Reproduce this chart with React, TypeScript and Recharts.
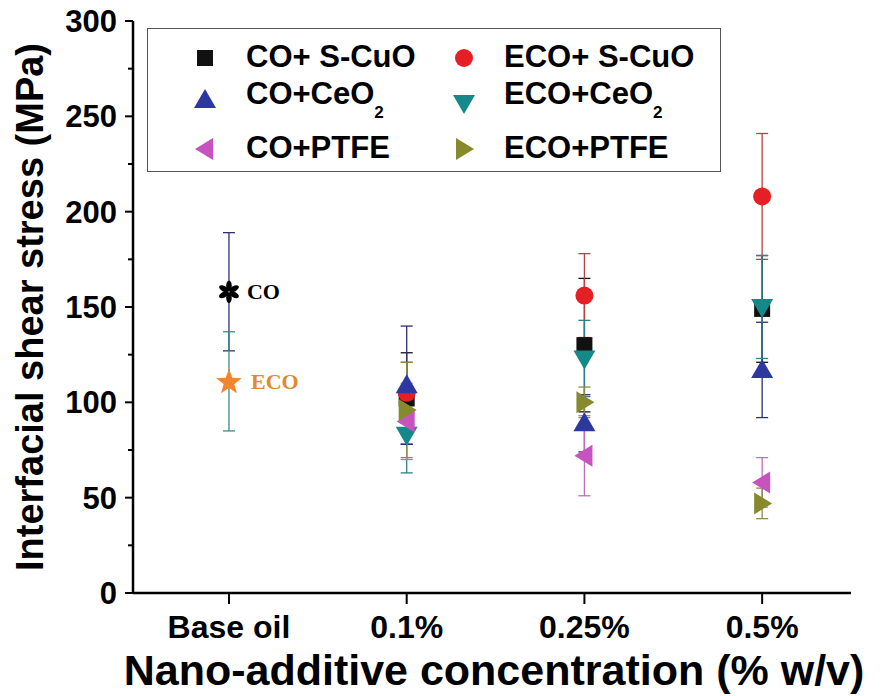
import {
  ScatterChart,
  Scatter,
  XAxis,
  YAxis,
  ErrorBar,
  Legend,
  Label,
} from "recharts";

const categories = ["Base oil", "0.1%", "0.25%", "0.5%"];
const concPos = [1, 2, 3];

// base oil reference points
const baseCO = [158];
const baseCOErr = [31];
const baseECO = [111];
const baseECOErr = [26];

// nano-additive series, one value per concentration (0.1, 0.25, 0.5 %)
const coSCuO = [102, 130, 149];
const coSCuOErr = [24, 35, 28];
const ecoSCuO = [105, 156, 208];
const ecoSCuOErr = [16, 22, 33];
const coCeO2 = [109, 89, 117];
const coCeO2Err = [31, 15, 25];
const ecoCeO2 = [83, 123, 150];
const ecoCeO2Err = [20, 20, 27];
const coPTFE = [90, 72, 58];
const coPTFEErr = [20, 21, 13];
const ecoPTFE = [96, 100, 47];
const ecoPTFEErr = [25, 8, 8];

const yTicks = [0, 25, 50, 75, 100, 125, 150, 175, 200, 225, 250, 275, 300];

const toRows = (pos: number[], vals: number[], errs: number[]) =>
  pos.map((x, i) => ({ x, y: vals[i], err: errs[i] }));

const FONT = "'Liberation Sans', Arial, Helvetica, sans-serif";
const SERIF = "'Liberation Serif', 'Times New Roman', serif";

const series = [
  { name: "CO+ S-CuO", kind: "square", color: "#111111", bar: "#111111", rows: toRows(concPos, coSCuO, coSCuOErr) },
  { name: "ECO+ S-CuO", kind: "circle", color: "#e41f26", bar: "#b5414a", rows: toRows(concPos, ecoSCuO, ecoSCuOErr) },
  { name: "CO+CeO2", kind: "up", color: "#2c38a0", bar: "#2b2f72", rows: toRows(concPos, coCeO2, coCeO2Err) },
  { name: "ECO+CeO2", kind: "down", color: "#15898a", bar: "#2f7f88", rows: toRows(concPos, ecoCeO2, ecoCeO2Err) },
  { name: "CO+PTFE", kind: "left", color: "#c653bf", bar: "#c070bb", rows: toRows(concPos, coPTFE, coPTFEErr) },
  { name: "ECO+PTFE", kind: "right", color: "#878a2c", bar: "#8c8c4a", rows: toRows(concPos, ecoPTFE, ecoPTFEErr) },
];

function Marker({ kind, cx, cy, color }: { kind: string; cx: number; cy: number; color: string }) {
  switch (kind) {
    case "square":
      return <rect x={cx - 8} y={cy - 8} width={16} height={16} fill={color} />;
    case "circle":
      return <circle cx={cx} cy={cy} r={9} fill={color} />;
    case "up":
      return <path d={`M${cx},${cy - 11} L${cx + 11},${cy + 8} L${cx - 11},${cy + 8} Z`} fill={color} />;
    case "down":
      return <path d={`M${cx},${cy + 11} L${cx + 11},${cy - 8} L${cx - 11},${cy - 8} Z`} fill={color} />;
    case "left":
      return <path d={`M${cx - 10},${cy} L${cx + 8},${cy - 11} L${cx + 8},${cy + 11} Z`} fill={color} />;
    case "right":
      return <path d={`M${cx + 10},${cy} L${cx - 8},${cy - 11} L${cx - 8},${cy + 11} Z`} fill={color} />;
    default:
      return null;
  }
}

const Asterisk = (props: any) => {
  const { cx, cy } = props;
  return (
    <g>
      {[0, 60, 120, 180, 240, 300].map((a) => (
        <ellipse
          key={a}
          cx={cx}
          cy={cy - 6}
          rx={2.8}
          ry={5.2}
          fill="#000"
          transform={`rotate(${a} ${cx} ${cy})`}
        />
      ))}
      <text x={cx + 18} y={cy + 7} fontFamily={SERIF} fontWeight="bold" fontSize={22} fill="#000">
        CO
      </text>
    </g>
  );
};

const OrangeStar = (props: any) => {
  const { cx, cy } = props;
  const pts: string[] = [];
  for (let i = 0; i < 10; i++) {
    const r = i % 2 === 0 ? 13.5 : 5.6;
    const a = (Math.PI / 5) * i - Math.PI / 2;
    pts.push(`${cx + r * Math.cos(a)},${cy + 1 + r * Math.sin(a)}`);
  }
  return (
    <g>
      <polygon points={pts.join(" ")} fill="#f5842a" />
      <text x={cx + 22} y={cy + 8} fontFamily={SERIF} fontWeight="bold" fontSize={22} fill="#e08a35">
        ECO
      </text>
    </g>
  );
};

const YTick = (props: any) => {
  const { x, y, payload } = props;
  const major = payload.value % 50 === 0;
  return (
    <g>
      <line x1={x - (major ? 8 : 5)} x2={x} y1={y} y2={y} stroke="#000" strokeWidth={2} />
      {major && (
        <text x={x - 16} y={y + 11} textAnchor="end" fontFamily={FONT} fontWeight="bold" fontSize={31} fill="#000">
          {payload.value}
        </text>
      )}
    </g>
  );
};

const XTick = (props: any) => {
  const { x, y, payload } = props;
  return (
    <g>
      <line x1={x} x2={x} y1={y} y2={y + 11} stroke="#000" strokeWidth={2} />
      <text x={x} y={y + 45} textAnchor="middle" fontFamily={FONT} fontWeight="bold" fontSize={32} fill="#000">
        {categories[payload.value]}
      </text>
    </g>
  );
};

const XTitle = ({ viewBox }: any) => (
  <text
    x={viewBox.x + viewBox.width / 2 + 2}
    y={viewBox.y + 92}
    textAnchor="middle"
    fontFamily={FONT}
    fontWeight="bold"
    fontSize={43}
    fill="#000"
  >
    Nano-additive concentration (% w/v)
  </text>
);

const YTitle = ({ viewBox }: any) => {
  const x = viewBox.x + 43;
  const y = viewBox.y + viewBox.height / 2;
  return (
    <text
      x={x}
      y={y}
      transform={`rotate(-90 ${x} ${y})`}
      textAnchor="middle"
      fontFamily={FONT}
      fontWeight="bold"
      fontSize={38}
      fill="#000"
    >
      Interfacial shear stress (MPa)
    </text>
  );
};

const legendPos = [
  { mx: 57, my: 29, tx: 98, ty: 11 },
  { mx: 316, my: 29, tx: 356, ty: 11 },
  { mx: 57, my: 71, tx: 98, ty: 48 },
  { mx: 316, my: 74, tx: 356, ty: 48 },
  { mx: 57, my: 120, tx: 98, ty: 102 },
  { mx: 316, my: 120, tx: 356, ty: 102 },
];

const LegendBox = () => (
  <div
    style={{
      position: "relative",
      width: 572,
      height: 142,
      border: "1.5px solid #555",
      background: "#fff",
      fontFamily: FONT,
      fontWeight: "bold",
      fontSize: 31,
      color: "#000",
    }}
  >
    {series.map((s, i) => {
      const p = legendPos[i];
      const sub = s.name.endsWith("CeO2");
      return (
        <div key={s.name}>
          <svg
            width={26}
            height={26}
            style={{ position: "absolute", left: p.mx - 13, top: p.my - 13 }}
          >
            <Marker kind={s.kind} cx={13} cy={13} color={s.color} />
          </svg>
          <div style={{ position: "absolute", left: p.tx, top: p.ty, lineHeight: "34px", whiteSpace: "nowrap" }}>
            {sub ? s.name.slice(0, -1) : s.name}
            {sub && (
              <span style={{ fontSize: 17, position: "relative", top: 14 }}>2</span>
            )}
          </div>
        </div>
      );
    })}
  </div>
);

export default function App() {
  return (
    <div style={{ width: 884, height: 696, background: "#fff" }}>
      <style>{`body{margin:0;background:#fff}`}</style>
      <ScatterChart
        width={884}
        height={696}
        margin={{ top: 21, right: 33, bottom: 43, left: 0 }}
      >
        <XAxis
          dataKey="x"
          type="number"
          domain={[-0.54, 3.5]}
          ticks={[0, 1, 2, 3]}
          height={60}
          tickSize={0}
          tickMargin={0}
          tick={<XTick />}
          axisLine={{ stroke: "#000", strokeWidth: 2.5 }}
          allowDataOverflow
        >
          <Label content={<XTitle />} />
        </XAxis>
        <XAxis
          xAxisId="top"
          orientation="top"
          type="number"
          domain={[-0.54, 3.5]}
          height={0}
          tick={false}
          tickLine={false}
          axisLine={{ stroke: "#000", strokeWidth: 2.5 }}
        />
        <YAxis
          dataKey="y"
          type="number"
          domain={[0, 300]}
          ticks={yTicks}
          width={133}
          tickSize={0}
          tickMargin={0}
          tick={<YTick />}
          interval={0}
          axisLine={{ stroke: "#000", strokeWidth: 2.5 }}
          allowDataOverflow
        >
          <Label content={<YTitle />} />
        </YAxis>
        <YAxis
          yAxisId="right"
          orientation="right"
          type="number"
          domain={[0, 300]}
          width={0}
          tick={false}
          tickLine={false}
          axisLine={{ stroke: "#000", strokeWidth: 2.5 }}
        />
        <Legend
          verticalAlign="middle"
          align="center"
          layout="horizontal"
          content={<LegendBox />}
          wrapperStyle={{ left: 147, top: 28, right: "auto", bottom: "auto", width: 575, height: 145 }}
        />
        <Scatter
          name="CO base"
          data={toRows([0], baseCO, baseCOErr)}
          shape={<Asterisk />}
          legendType="none"
          isAnimationActive={false}
        >
          <ErrorBar dataKey="err" direction="y" width={6} stroke="#2e3170" strokeWidth={1.3} />
        </Scatter>
        <Scatter
          name="ECO base"
          data={toRows([0], baseECO, baseECOErr)}
          shape={<OrangeStar />}
          legendType="none"
          isAnimationActive={false}
        >
          <ErrorBar dataKey="err" direction="y" width={6} stroke="#3b8a8c" strokeWidth={1.3} />
        </Scatter>
        {series.map((s) => (
          <Scatter
            key={s.name}
            name={s.name}
            data={s.rows}
            fill={s.color}
            shape={(p: any) => <Marker kind={s.kind} cx={p.cx} cy={p.cy} color={s.color} />}
            isAnimationActive={false}
          >
            <ErrorBar dataKey="err" direction="y" width={6} stroke={s.bar} strokeWidth={1.3} />
          </Scatter>
        ))}
      </ScatterChart>
    </div>
  );
}
